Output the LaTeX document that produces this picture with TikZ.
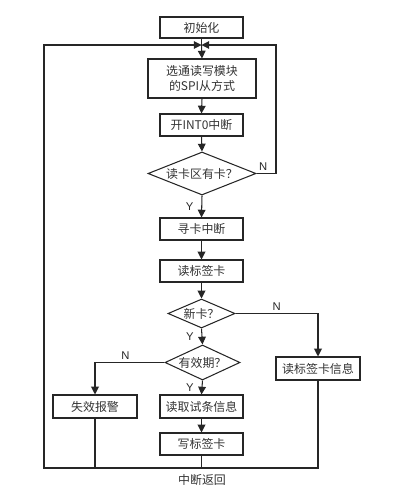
\documentclass[tikz,border=0pt]{standalone}
\usepackage{fontspec}
\newfontfamily\cjk{Noto Sans CJK SC}
\newfontfamily\latinsans{Liberation Sans}
\usetikzlibrary{arrows.meta,shapes.geometric}

\tikzset{
	procBox/.style={rectangle, draw=black!85, line width=0.75pt, inner sep=0pt, align=center, text=black!80, font=\cjk\fontsize{8.5}{11}\selectfont},
	decBox/.style={diamond, draw=black!85, line width=0.75pt, inner sep=0pt, shape aspect=2.3, text=black!80, font=\cjk\fontsize{8.5}{11}\selectfont},
	flowArrow/.style={-{Triangle[width=5.5pt,length=5.5pt]}, line width=0.75pt, draw=black!85},
	flowLine/.style={line width=0.75pt, draw=black!85},
	yesNo/.style={font=\latinsans\fontsize{8}{9}\selectfont, text=black!85, inner sep=1.5pt}
}

\begin{document}
\begin{tikzpicture}[x=0.025cm, y=0.025cm]
	\useasboundingbox (0,0) rectangle (416,-493);

	\node[procBox, minimum width=2.075cm, minimum height=0.525cm](initBox) at (201.5,-27.5){初始化};
	\coordinate (merge) at (201.5,-45);
	\node[procBox, minimum width=2.7cm, minimum height=0.975cm](selectBox) at (202,-78.5){选通读写模块\\的SPI从方式};
	\node[procBox, minimum width=2.075cm, minimum height=0.55cm](intBox) at (201.5,-125){开INT0中断};
	\node[decBox, minimum width=2.7cm, minimum height=1.075cm](cardDec) at (202,-173.5){读卡区有卡？};
	\node[procBox, minimum width=2.075cm, minimum height=0.55cm](seekBox) at (201.5,-229){寻卡中断};
	\node[procBox, minimum width=2.075cm, minimum height=0.55cm](readBox) at (201.5,-271){读标签卡};
	\node[decBox, minimum width=1.675cm, minimum height=0.725cm](newDec) at (201.5,-313.5){新卡？};
	\node[decBox, minimum width=1.875cm, minimum height=0.875cm](validDec) at (202.5,-362.5){有效期？};
	\node[procBox, minimum width=2.1cm, minimum height=0.575cm](infoBox) at (318,-368.5){读标签卡信息};
	\node[procBox, minimum width=2.1cm, minimum height=0.575cm](alarmBox) at (95,-406.5){失效报警};
	\node[procBox, minimum width=2.075cm, minimum height=0.575cm](fetchBox) at (201.5,-406.5){读取试条信息};
	\node[procBox, minimum width=2.075cm, minimum height=0.55cm](writeBox) at (201.5,-444){写标签卡};

	\coordinate (loopR) at (276,-173.5);
	\coordinate (retL) at (44,-468);
	\coordinate (retC) at (201.5,-468);
	\node[text=black!80, font=\cjk\fontsize{8.5}{11}\selectfont](retText) at (202,-480){中断返回};

	% draw main edges
	\draw[flowLine] (initBox.south) -- (merge);
	\draw[flowArrow] (merge) -- (selectBox.north);
	\draw[flowArrow] (selectBox.south) -- (intBox.north);
	\draw[flowArrow] (intBox.south) -- (cardDec.north);
	\draw[flowArrow] (cardDec.south) -- node[yesNo, midway, left, xshift=-4pt]{Y}(seekBox.north);
	\draw[flowArrow] (seekBox.south) -- (readBox.north);
	\draw[flowArrow] (readBox.south) -- (newDec.north);
	\draw[flowArrow] (newDec.south) -- node[yesNo, midway, left, xshift=-4pt]{Y}(validDec.north);
	\draw[flowArrow] (validDec.south) -- node[yesNo, midway, left, xshift=-4pt]{Y}(fetchBox.north);
	\draw[flowArrow] (fetchBox.south) -- (writeBox.north);

	% draw branch edges
	\draw[flowArrow] (newDec.east) -| node[yesNo, pos=0.25, above]{N}(infoBox.north);
	\draw[flowArrow] (validDec.west) -| node[yesNo, pos=0.25, above, xshift=-3pt]{N}(alarmBox.north);

	% draw return edges
	\draw[flowArrow] (cardDec.east) -- node[yesNo, pos=0, above right]{N}(loopR) |- (merge);
	\draw[flowArrow] (infoBox.south) |- (retL) |- (merge);
	\draw[flowLine] (alarmBox.south) -- (alarmBox.south |- retL);
	\draw[flowLine] (writeBox.south) -- (retC);
\end{tikzpicture}
\end{document}
